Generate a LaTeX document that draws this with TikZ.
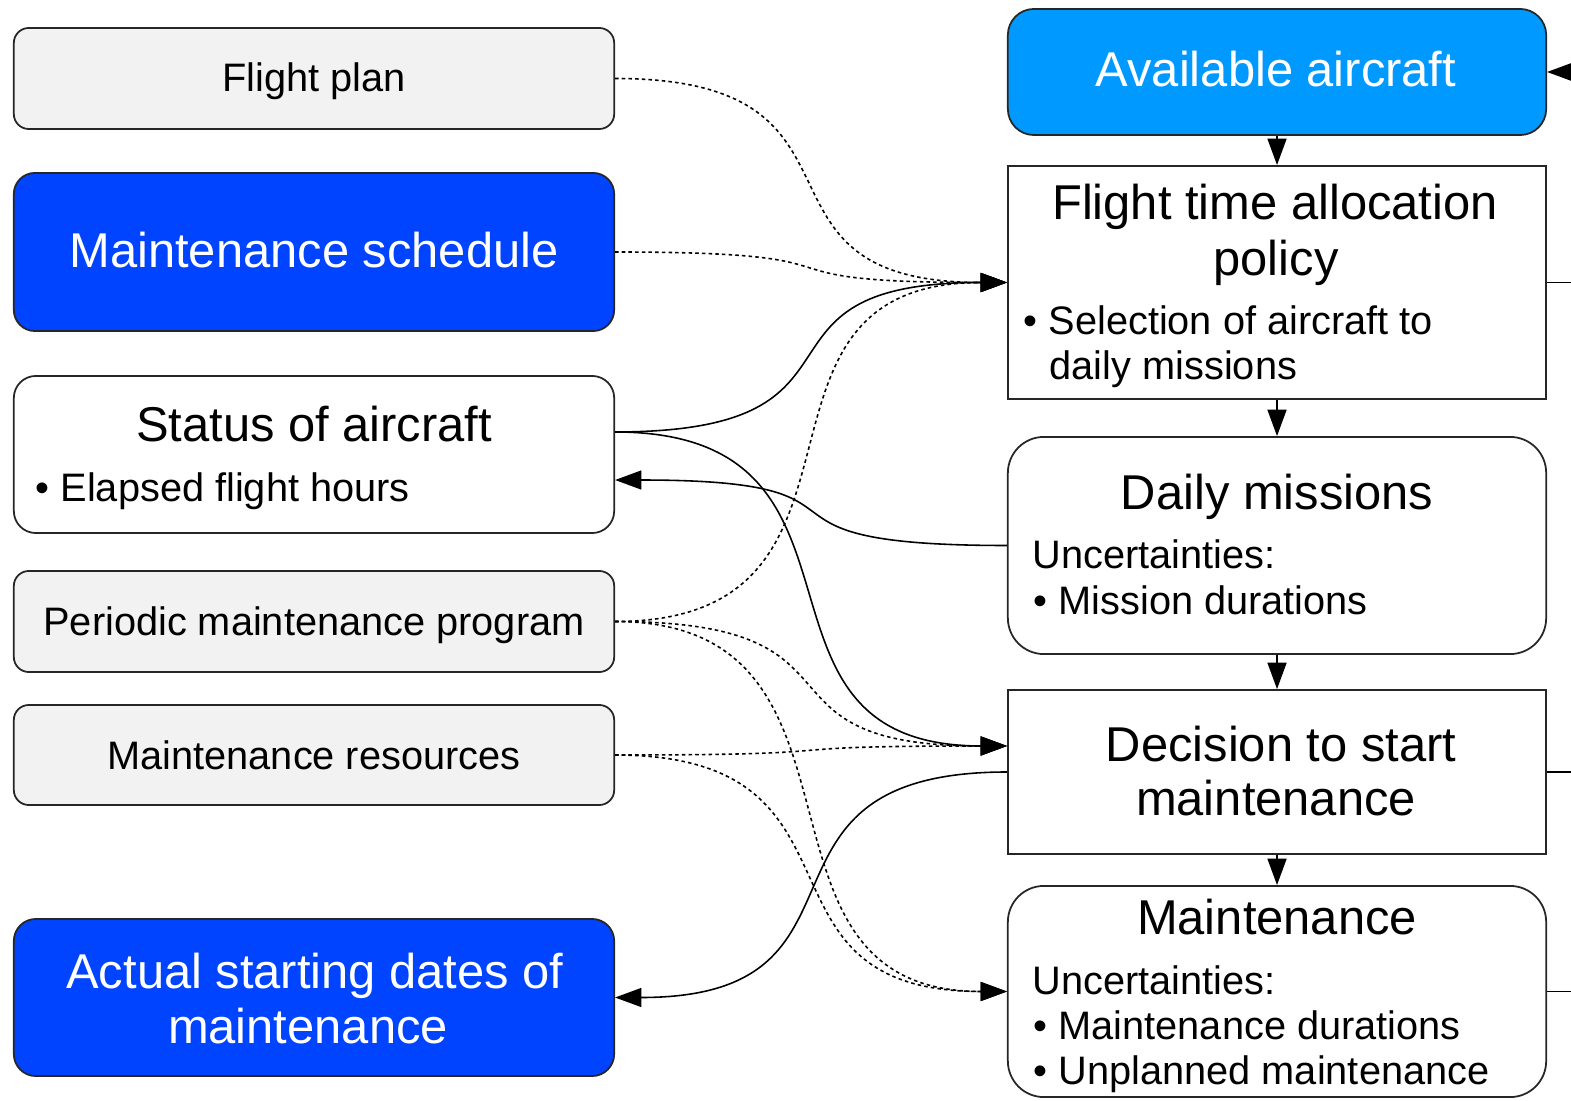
\documentclass[tikz,border=0pt]{standalone}
\usepackage{fontspec}
\setmainfont{Liberation Sans}
\usepackage{xcolor}
\usepackage{tikz}
\usetikzlibrary{arrows.meta}

\definecolor{inputgray}{RGB}{242,242,242}
\definecolor{planblue}{RGB}{0,68,255}
\definecolor{fleetblue}{RGB}{0,153,255}

\newcommand{\headfont}{\fontsize{13.9}{16}\selectfont}
\newcommand{\itemfont}{\fontsize{11.3}{13}\selectfont}

\begin{document}
\begin{tikzpicture}[x=0.01cm, y=-0.01cm,
  box/.style={draw=black!85, line width=0.5pt, inner sep=0pt},
  lbox/.style={box, minimum width=6cm},
  rbox/.style={box, minimum width=5.38cm},
  head/.style={font=\headfont, inner sep=0pt, anchor=base},
  note/.style={font=\itemfont, inner sep=0pt, anchor=base},
  item/.style={font=\itemfont, inner sep=0pt, anchor=base west},
  line/.style={line width=0.45pt},
  flow/.style={line, -{Triangle[length=7.5pt,width=5.4pt]}},
  dotflow/.style={flow, dash pattern=on 1pt off 0.9pt}]

\useasboundingbox (0,0) rectangle (1571,1101);
\clip (0,0) rectangle (1571,1101);

% inputs
\node[lbox, fill=inputgray, rounded corners=1.5mm, minimum height=1.01cm] (plan) at (314,78.5) {};
\node[note] (plan-t) at (314,92) {Flight plan};

\node[lbox, fill=planblue, rounded corners=2.1mm, minimum height=1.58cm] (sched) at (314,252) {};
\node[head, white] (sched-t) at (314,267.5) {Maintenance schedule};

\node[lbox, fill=white, rounded corners=2.2mm, minimum height=1.57cm] (status) at (314,454.5) {};
\node[head] (status-t) at (314,442) {Status of aircraft};
\node[item] (status-i) at (35,502) {\textbullet\ Elapsed flight hours};

\node[lbox, fill=inputgray, rounded corners=1.5mm, minimum height=1.01cm] (prog) at (314,621.5) {};
\node[note] (prog-t) at (314,635) {Periodic maintenance program};

\node[lbox, fill=inputgray, rounded corners=1.5mm, minimum height=1cm] (res) at (314,755) {};
\node[note] (res-t) at (314,769) {Maintenance resources};

\node[lbox, fill=planblue, rounded corners=2.2mm, minimum height=1.57cm] (start) at (314,997.5) {};
\node[head, white] (start-t1) at (315,988) {Actual starting dates of};
\node[head, white] (start-t2) at (308,1043) {maintenance};

% process chain
\node[rbox, fill=fleetblue, rounded corners=2.6mm, minimum height=1.26cm] (avail) at (1277,72) {};
\node[head, white] (avail-t) at (1276,87) {Available aircraft};

\node[rbox, fill=white, minimum height=2.33cm] (ftp) at (1277,282.5) {};
\node[head] (ftp-t1) at (1275,220) {Flight time allocation};
\node[head] (ftp-t2) at (1276,276) {policy};
\node[item] (ftp-i1) at (1023,335) {\textbullet\ Selection of aircraft to};
\node[item] (ftp-i2) at (1049,380) {daily missions};

\node[rbox, fill=white, rounded corners=3.6mm, minimum height=2.17cm] (daily) at (1277,545.5) {};
\node[head] (daily-t) at (1277,510) {Daily missions};
\node[item] (daily-i1) at (1032,569) {Uncertainties:};
\node[item] (daily-i2) at (1033,614) {\textbullet\ Mission durations};

\node[rbox, fill=white, minimum height=1.64cm] (decide) at (1277,772) {};
\node[head] (decide-t1) at (1281,761) {Decision to start};
\node[head] (decide-t2) at (1276,815) {maintenance};

\node[rbox, fill=white, rounded corners=3.6mm, minimum height=2.11cm] (maint) at (1277,991.5) {};
\node[head] (maint-t) at (1277,934) {Maintenance};
\node[item] (maint-i1) at (1032,994) {Uncertainties:};
\node[item] (maint-i2) at (1033,1039) {\textbullet\ Maintenance durations};
\node[item] (maint-i3) at (1033,1084) {\textbullet\ Unplanned maintenance};

\foreach \a/\b in {avail/ftp, ftp/daily, daily/decide, decide/maint}
  \draw[flow] (\a) -- (\b);

% loop back from the right
\coordinate (fleet-in) at (1600,72);
\coordinate (ftp-out) at (1600,282.5);
\coordinate (decide-out) at (1600,772);
\coordinate (maint-out) at (1600,991.5);
\draw[flow] (fleet-in) -- (avail.east);
\draw[line] (ftp.east) -- (ftp-out);
\draw[line] (decide.east) -- (decide-out);
\draw[line] (maint.east) -- (maint-out);

% inputs into the policy and the decision
\draw[dotflow] (plan.east) .. controls +(280,0) and +(-280,0) .. (ftp.west);
\draw[dotflow] (sched.east) .. controls +(280,0) and +(-280,0) .. (ftp.west);
\draw[flow] ([yshift=2.25mm]status.east) .. controls +(280,0) and +(-280,0) .. (ftp.west);
\draw[dotflow] (prog.east) .. controls +(290,0) and +(-290,0) .. (ftp.west);
\draw[flow] ([yshift=2.25mm]status.east) .. controls +(285,0) and +(-285,0) .. ([yshift=2.6mm]decide.west);
\draw[dotflow] (prog.east) .. controls +(270,0) and +(-270,0) .. ([yshift=2.6mm]decide.west);
\draw[dotflow] (res.east) .. controls +(270,0) and +(-270,0) .. ([yshift=2.6mm]decide.west);
\draw[dotflow] (prog.east) .. controls +(280,0) and +(-280,0) .. (maint.west);
\draw[dotflow] (res.east) .. controls +(270,0) and +(-270,0) .. (maint.west);

% feedback to the left
\draw[flow] (daily.west) .. controls +(-290,0) and +(290,0) .. ([yshift=-2.55mm]status.east);
\draw[flow] (decide.west) .. controls +(-280,0) and +(280,0) .. (start.east);

\end{tikzpicture}
\end{document}
